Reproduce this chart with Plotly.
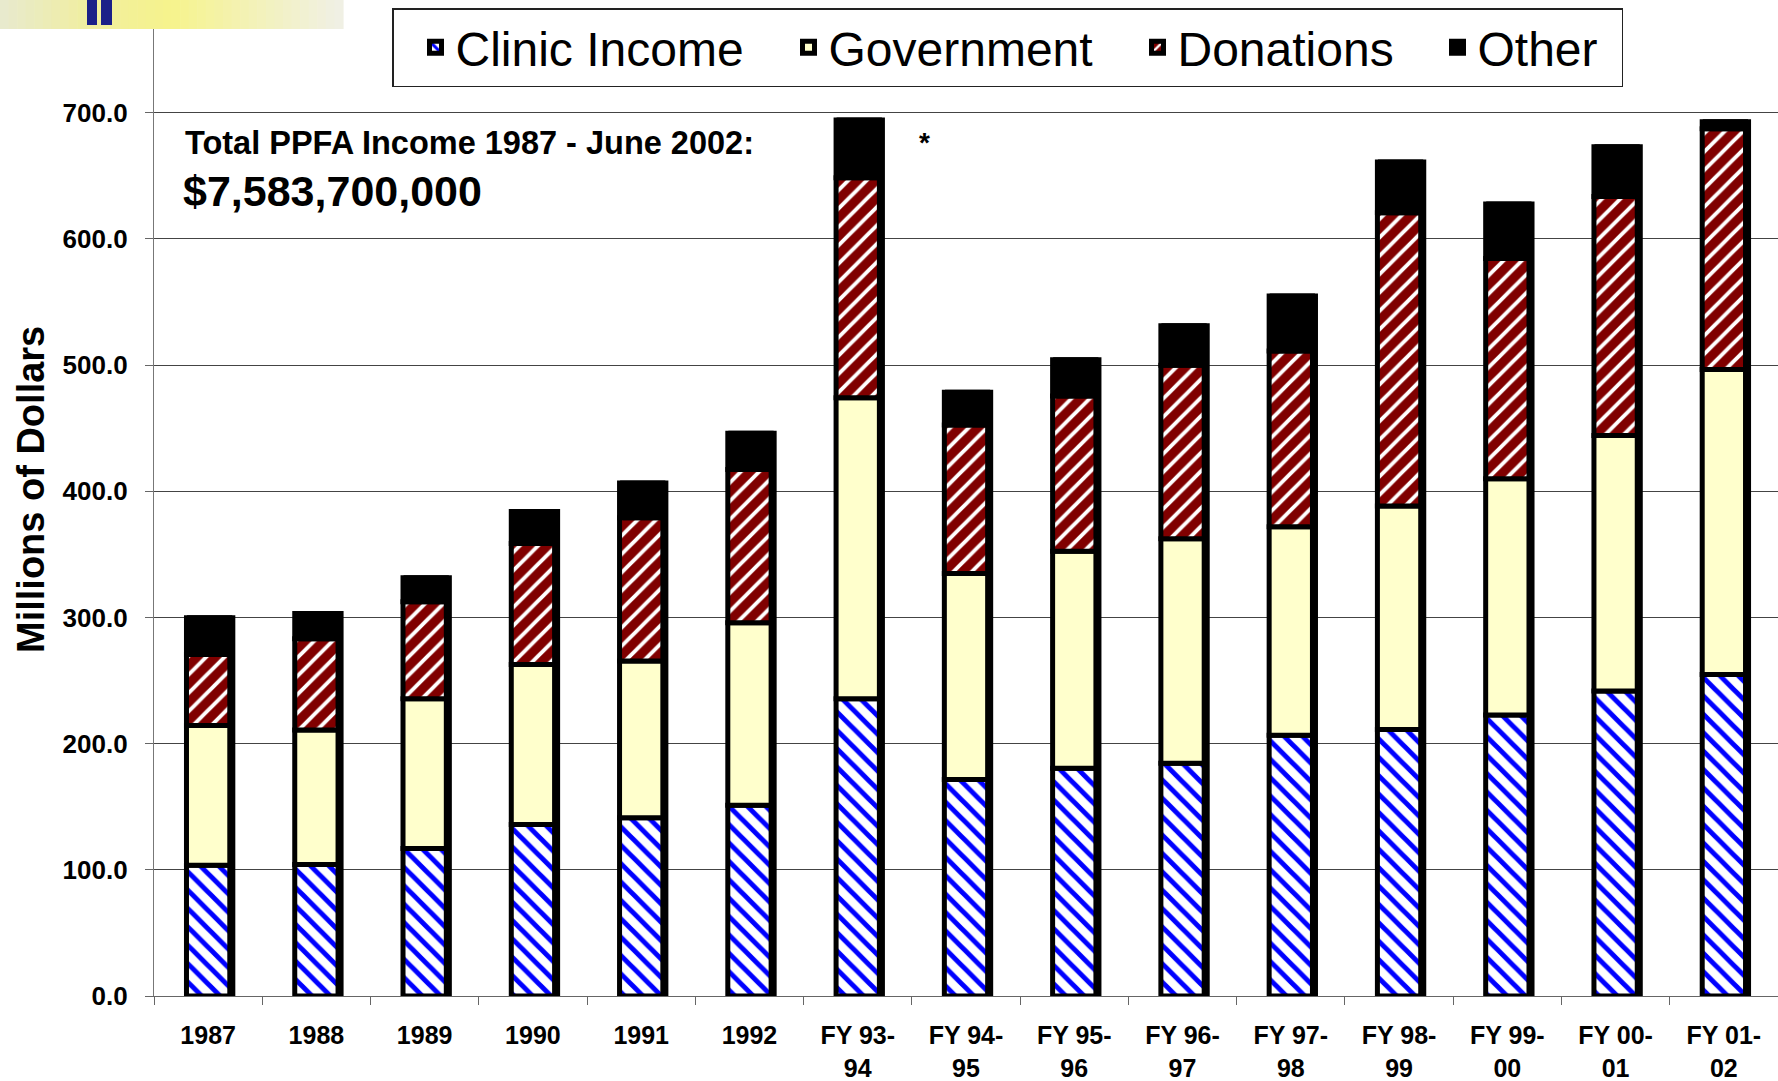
import plotly.graph_objects as go

# ---------------- data (millions of dollars) ----------------
categories = ["1987", "1988", "1989", "1990", "1991", "1992", "FY 93-94", "FY 94-95",
              "FY 95-96", "FY 96-97", "FY 97-98", "FY 98-99", "FY 99-00", "FY 00-01", "FY 01-02"]
tick_labels = ["1987", "1988", "1989", "1990", "1991", "1992", "FY 93-<br>94", "FY 94-<br>95",
               "FY 95-<br>96", "FY 96-<br>97", "FY 97-<br>98", "FY 98-<br>99", "FY 99-<br>00",
               "FY 00-<br>01", "FY 01-<br>02"]
clinic_income = [103.6, 104.2, 116.9, 135.9, 141.2, 151.1, 235.5, 171.6, 180.4, 184.5, 206.7, 211.2, 222.6, 241.6, 254.8]
government = [110.7, 106.6, 118.6, 126.8, 124.2, 144.6, 238.5, 163.1, 172.1, 177.8, 165.1, 177.0, 187.2, 202.5, 241.6]
donations = [56.4, 72.2, 76.9, 95.9, 113.5, 121.5, 174.3, 117.7, 122.9, 137.6, 139.2, 232.4, 174.6, 189.4, 190.8]
other = [29.0, 20.1, 19.0, 25.3, 27.5, 28.8, 45.8, 26.1, 28.7, 31.2, 43.6, 40.2, 43.1, 39.4, 5.5]

# ---------------- geometry helpers ----------------
W, H = 1778, 1081
ML, MR, MT, MB = 154, 0, 0, 85
PLOT_TOP = 29                      # top of the y axis in pixels
PW = W - ML - MR
PH = H - MT - MB                   # paper height (axis domain is a sub-range)
AXIS_H = PH - PLOT_TOP


def px(x):
    return (x - ML) / PW


def py(y):
    return (H - MB - y) / PH


FONT = "Liberation Sans, Arial, Helvetica, sans-serif"
BAR_W = 0.40
LW = 5
INDENT = 22

base_gov = [c for c in clinic_income]
base_don = [c + g for c, g in zip(clinic_income, government)]
base_oth = [c + g + d for c, g, d in zip(clinic_income, government, donations)]
totals = [b + o for b, o in zip(base_oth, other)]

fig = go.Figure()

# drop shadow behind each stacked column
fig.add_trace(go.Bar(
    x=categories, y=totals, base=[0] * len(categories), width=BAR_W, offset=-BAR_W / 2 + 0.028,
    marker=dict(color="black", line=dict(color="black", width=LW)),
    showlegend=False, hoverinfo="skip"))

fig.add_trace(go.Bar(
    name="Clinic Income", x=categories, y=clinic_income, base=[0] * len(categories),
    width=BAR_W, offset=-BAR_W / 2, legendwidth=328 - INDENT,
    marker=dict(color="white", line=dict(color="black", width=LW),
                pattern=dict(shape="\\", fgcolor="#0000ff", bgcolor="white", size=13,
                             solidity=0.38, fillmode="replace"))))

fig.add_trace(go.Bar(
    name="Government", x=categories, y=government, base=base_gov,
    width=BAR_W, offset=-BAR_W / 2, legendwidth=304 - INDENT,
    marker=dict(color="#ffffcc", line=dict(color="black", width=LW))))

fig.add_trace(go.Bar(
    name="Donations", x=categories, y=donations, base=base_don,
    width=BAR_W, offset=-BAR_W / 2, legendwidth=255 - INDENT,
    marker=dict(color="#800000", line=dict(color="black", width=LW),
                pattern=dict(shape="/", fgcolor="white", bgcolor="#800000", size=13,
                             solidity=0.3, fillmode="replace"))))

fig.add_trace(go.Bar(
    name="Other", x=categories, y=other, base=base_oth,
    width=BAR_W, offset=-BAR_W / 2, legendwidth=161 - INDENT,
    marker=dict(color="black", line=dict(color="black", width=LW))))

# ---------------- decoration: slide template strip (top-left) ----------------
shapes = []
stops = [(0.0, (232, 234, 205)), (0.25, (240, 238, 160)), (0.5, (246, 243, 140)),
         (0.75, (243, 242, 185)), (1.0, (240, 240, 228))]


def lerp_color(t):
    for (t0, c0), (t1, c1) in zip(stops[:-1], stops[1:]):
        if t0 <= t <= t1:
            f = (t - t0) / (t1 - t0)
            return "rgb(%d,%d,%d)" % tuple(round(a + (b - a) * f) for a, b in zip(c0, c1))
    return "rgb(%d,%d,%d)" % stops[-1][1]


N = 40
x0, x1 = 0, 343
for i in range(N):
    a = x0 + (x1 - x0) * i / N
    b = x0 + (x1 - x0) * (i + 1) / N + 0.6
    shapes.append(dict(type="rect", xref="paper", yref="paper", x0=px(a), x1=px(b),
                       y0=py(29), y1=py(0), fillcolor=lerp_color(i / (N - 1)),
                       line=dict(width=0), layer="above"))
for a, b in [(87, 97), (101, 112)]:
    shapes.append(dict(type="rect", xref="paper", yref="paper", x0=px(a), x1=px(b),
                       y0=py(25), y1=py(0), fillcolor="#1b2088", line=dict(width=0), layer="above"))

annotations = [
    dict(text="Total PPFA Income 1987 - June 2002:", x=px(183), y=py(143), xref="paper", yref="paper",
         xanchor="left", yanchor="middle", showarrow=False,
         font=dict(family=FONT, size=32.5, color="black", weight="bold")),
    dict(text="$7,583,700,000", x=px(181), y=py(191), xref="paper", yref="paper",
         xanchor="left", yanchor="middle", showarrow=False,
         font=dict(family=FONT, size=43, color="black", weight="bold")),
    dict(text="*", x=px(924), y=py(142), xref="paper", yref="paper",
         xanchor="center", yanchor="middle", showarrow=False,
         font=dict(family=FONT, size=28, color="black", weight="bold")),
    dict(text="Millions of Dollars", x=px(31), y=py(490), xref="paper", yref="paper",
         xanchor="center", yanchor="middle", showarrow=False, textangle=-90,
         font=dict(family=FONT, size=38, color="black", weight="bold")),
]

fig.update_layout(
    width=W, height=H,
    margin=dict(l=ML, r=MR, t=MT, b=MB, pad=0, autoexpand=False),
    paper_bgcolor="white", plot_bgcolor="white",
    barmode="overlay",
    font=dict(family=FONT, color="black"),
    showlegend=True,
    legend=dict(orientation="h", x=px(392), y=py(8), xanchor="left", yanchor="top",
                bgcolor="white", bordercolor="#222222", borderwidth=1.5,
                font=dict(family=FONT, size=48, color="black"),
                indentation=INDENT, traceorder="normal"),
    shapes=shapes,
    annotations=annotations,
    xaxis=dict(type="category", range=[-0.5, len(categories) - 0.5], automargin=False,
               tickmode="array", tickvals=categories, ticktext=tick_labels,
               tickson="boundaries", ticks="outside", ticklen=8, tickcolor="#666666", tickwidth=1.3,
               showline=True, linecolor="#666666", linewidth=1.3, showgrid=False,
               tickfont=dict(family=FONT, size=25, color="black", weight="bold"),
               ticklabelstandoff=17, fixedrange=True),
    yaxis=dict(domain=[0, AXIS_H / PH], range=[0, AXIS_H / 126.2 * 100], automargin=False,
               tickmode="linear", tick0=0, dtick=100, tickformat=".1f",
               showgrid=True, gridcolor="#444444", gridwidth=1.3, zeroline=False,
               ticks="outside", ticklen=8, tickcolor="#666666", tickwidth=1.3,
               showline=True, linecolor="#777777", linewidth=1.3,
               tickfont=dict(family=FONT, size=26, color="black", weight="bold"),
               ticklabelstandoff=12, fixedrange=True),
)

fig.write_html("out.html", config={"staticPlot": False, "displayModeBar": False},
               post_script="document.body.style.margin='0';document.body.style.overflow='hidden';")
